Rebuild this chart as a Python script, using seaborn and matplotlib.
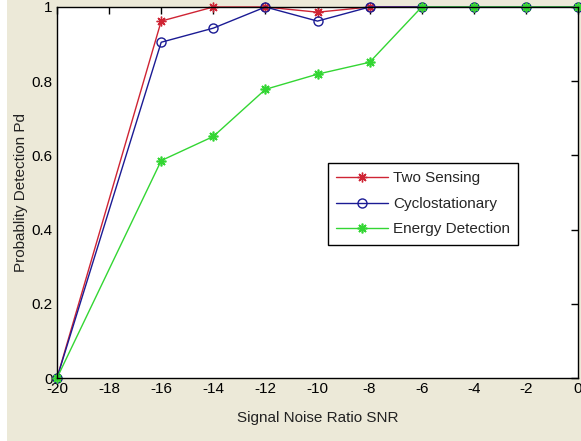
"""
Detection probability vs SNR for three spectrum sensing methods.
"""

import matplotlib.pyplot as plt
import matplotlib.patches as mpatches
import pandas as pd
import seaborn as sns

snr = [-20, -16, -14, -12, -10, -8, -6, -4, -2, 0]
pd_two_sensing = [0.0, 0.962, 1.0, 1.0, 0.986, 1.0, 1.0, 1.0, 1.0, 1.0]
pd_cyclo = [0.0, 0.905, 0.943, 1.0, 0.962, 1.0, 1.0, 1.0, 1.0, 1.0]
pd_energy = [0.0, 0.586, 0.651, 0.778, 0.819, 0.851, 1.0, 1.0, 1.0, 1.0]

x_ticks = [-20, -18, -16, -14, -12, -10, -8, -6, -4, -2, 0]
y_ticks = [0, 0.2, 0.4, 0.6, 0.8, 1]
y_tick_labels = ["0", "0.2", "0.4", "0.6", "0.8", "1"]


def main() -> None:
    sns.set_theme(style="white")
    plt.rcParams["font.family"] = ["Liberation Sans Narrow", "Liberation Sans", "DejaVu Sans"]

    fig = plt.figure(figsize=(5.81, 4.41), dpi=100, facecolor="#ece9d8")
    fig.patches.append(mpatches.Rectangle((0, 0), 7 / 581, 1, transform=fig.transFigure,
                                          facecolor="white", edgecolor="none", zorder=0))
    ax = fig.add_axes([57 / 581, 63 / 441, 521 / 581, 371 / 441])
    ax.set_facecolor("white")

    df = pd.DataFrame({"snr": snr, "two": pd_two_sensing,
                       "cyclo": pd_cyclo, "energy": pd_energy})

    # MATLAB-style '*' marker: 8-spoke asterisk
    asterisk = (8, 2, 0)
    series = [
        ("two", "Two Sensing", "#cf2434", asterisk, dict(markersize=7, markeredgewidth=1.0)),
        ("cyclo", "Cyclostationary", "#1b1b94",
         "o", dict(markersize=6.5, markerfacecolor="none", markeredgewidth=1.0)),
        ("energy", "Energy Detection", "#33d633", asterisk, dict(markersize=7, markeredgewidth=1.2)),
    ]
    for col, label, color, marker, kw in series:
        sns.lineplot(data=df, x="snr", y=col, ax=ax, color=color, marker=marker,
                     markeredgecolor=color, linewidth=1.0, label=label,
                     clip_on=False, **kw)

    ax.set_xlim(-20, 0)
    ax.set_ylim(0, 1)
    ax.set_xticks(x_ticks)
    ax.set_xticklabels([str(t) for t in x_ticks])
    ax.set_yticks(y_ticks)
    ax.set_yticklabels(y_tick_labels)
    ax.tick_params(direction="in", length=5, width=1, colors="black", labelsize=11,
                   top=True, right=True, pad=3)

    for spine in ax.spines.values():
        spine.set_color("black")
        spine.set_linewidth(1.0)

    ax.set_xlabel("Signal Noise Ratio SNR", fontsize=11, color="#222222", labelpad=11)
    ax.set_ylabel("Probablity Detection Pd", fontsize=11, color="#222222", labelpad=3)

    ax.legend(loc="upper left", bbox_to_anchor=(328 / 581, 1 - 163 / 441),
              bbox_transform=fig.transFigure, borderaxespad=0, fancybox=False,
              edgecolor="black", framealpha=1, fontsize=11, handlelength=3.4,
              handletextpad=0.3, labelspacing=0.75, borderpad=0.55)
    ax.get_legend().get_frame().set_linewidth(1.0)

    fig.savefig("out.png", dpi=100, facecolor=fig.get_facecolor())
    plt.close(fig)


if __name__ == "__main__":
    main()
